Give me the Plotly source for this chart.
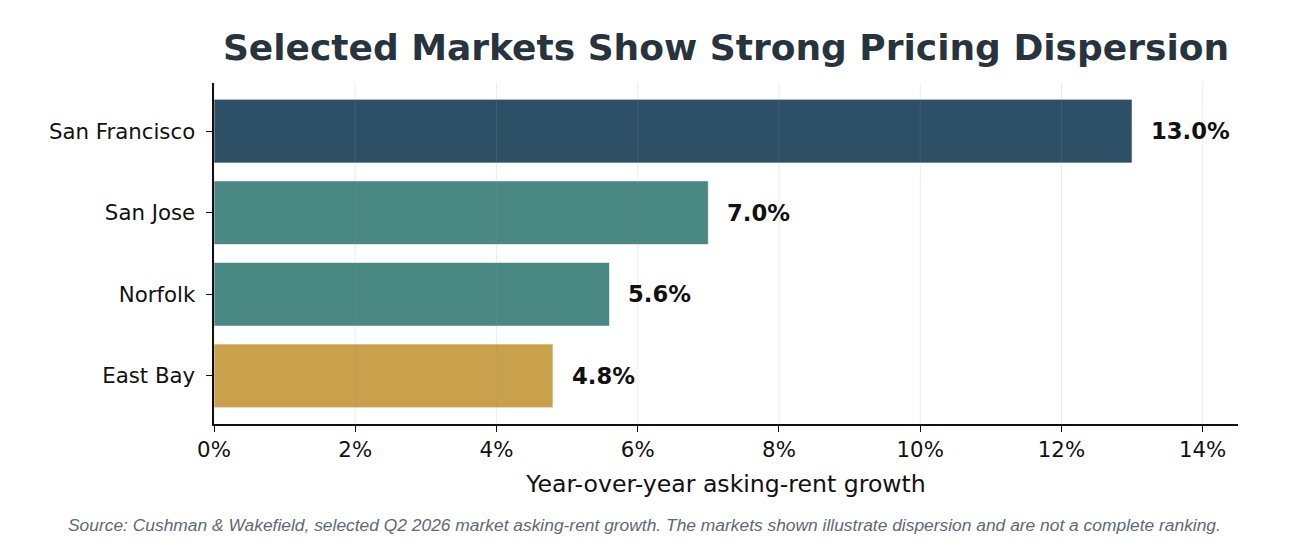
import plotly.graph_objects as go

# data, listed top to bottom as in the chart
markets = ["San Francisco", "San Jose", "Norfolk", "East Bay"]
growth = [13.0, 7.0, 5.6, 4.8]
bar_colors = ["#2d5066", "#4a8884", "#4a8884", "#c9a04c"]
x_ticks = [0, 2, 4, 6, 8, 10, 12, 14]

title = "Selected Markets Show Strong Pricing Dispersion"
x_title = "Year-over-year asking-rent growth"
source = ("Source: Cushman & Wakefield, selected Q2 2026 market asking-rent growth. "
          "The markets shown illustrate dispersion and are not a complete ranking.")

FONT = "DejaVu Sans"

fig = go.Figure()
fig.add_trace(go.Bar(
    x=growth,
    y=markets,
    orientation="h",
    width=0.78,
    marker=dict(color=bar_colors, line=dict(color="rgba(255,255,255,0.6)", width=1)),
    hoverinfo="skip",
))

# value labels to the right of each bar
for m, v in zip(markets, growth):
    fig.add_annotation(
        x=v, y=m, text=f"<b>{v:.1f}%</b>", showarrow=False,
        xanchor="left", xshift=17,
        font=dict(family=FONT, size=22.7, color="#111111"),
    )

# faint vertical grid drawn over the bars (matplotlib style)
for t in x_ticks:
    fig.add_shape(
        type="line", xref="x", yref="paper", x0=t, x1=t, y0=0, y1=1,
        line=dict(color="rgba(150,150,150,0.18)", width=1), layer="above",
    )

fig.add_annotation(
    text=source, xref="paper", yref="paper", x=0.42, y=-0.296,
    xanchor="center", yanchor="middle", showarrow=False,
    font=dict(family="Liberation Sans", size=17.4, color="#5e6a73", style="italic"),
)

fig.update_layout(
    width=1296, height=558,
    margin=dict(l=206, r=66, t=75, b=142),
    paper_bgcolor="white", plot_bgcolor="white",
    showlegend=False,
    title=dict(
        text=f"<b>{title}</b>",
        x=718 / 1296, xanchor="center",
        y=1 - 39 / 558, yanchor="middle", yref="container",
        font=dict(family=FONT, size=36, color="#28343d"),
    ),
    font=dict(family=FONT, color="#111111"),
)

fig.update_xaxes(
    range=[0, 14.5],
    tickvals=x_ticks,
    ticktext=[f"{t}%" for t in x_ticks],
    showgrid=False, zeroline=False,
    showline=True, linecolor="#111111", linewidth=1.5,
    ticks="outside", ticklen=6, tickcolor="#111111", tickwidth=1.2,
    tickfont=dict(family=FONT, size=21.3, color="#111111"),
    title=dict(text=x_title, font=dict(family=FONT, size=23.6, color="#111111"), standoff=14),
)
fig.update_yaxes(
    categoryorder="array", categoryarray=markets[::-1],
    range=[-0.59, 3.59],
    showgrid=False, zeroline=False,
    showline=True, linecolor="#111111", linewidth=1.5,
    ticks="outside", ticklen=6, tickcolor="#111111", tickwidth=1.2,
    tickfont=dict(family=FONT, size=21.3, color="#111111"),
    ticksuffix=" ",
)

fig.write_html("out.html")
